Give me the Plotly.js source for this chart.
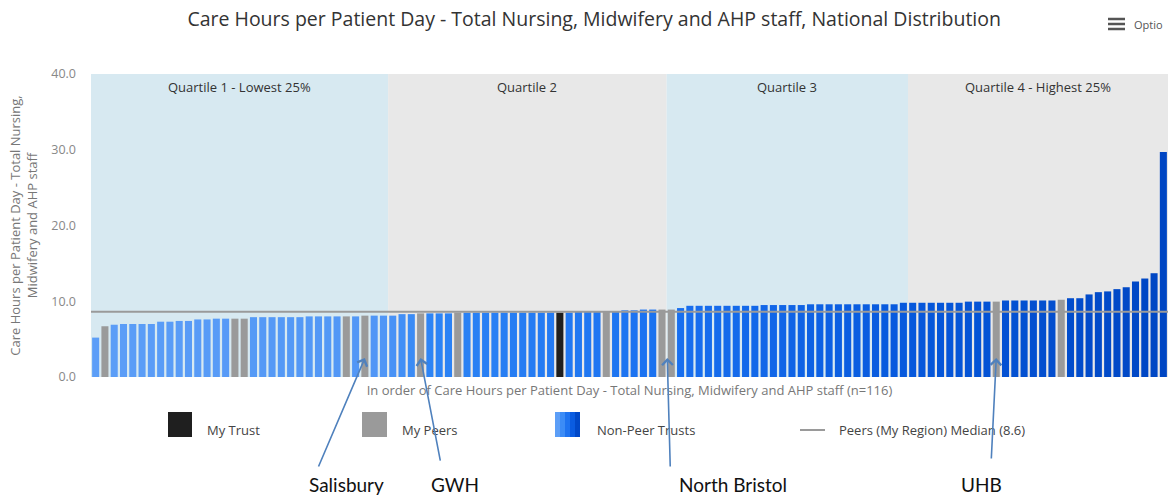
<!DOCTYPE html>
<html>
<head>
<meta charset="utf-8">
<script src="https://cdn.plot.ly/plotly-3.0.1.min.js"></script>
<style>html,body{margin:0;padding:0;background:#fff;}#chart{width:1172px;height:495px;}</style>
</head>
<body>
<div id="chart"></div>
<script>
// ---- Data (in rank order) ----
const careHours = [
  5.2, 6.7, 6.9, 7.0, 7.0, 7.0, 7.0, 7.3, 7.3, 7.4,
  7.4, 7.6, 7.6, 7.7, 7.7, 7.7, 7.7, 7.9, 7.9, 7.9,
  7.9, 7.9, 7.9, 8.0, 8.0, 8.0, 8.0, 8.0, 8.0, 8.1,
  8.1, 8.1, 8.1, 8.3, 8.3, 8.4, 8.4, 8.4, 8.4, 8.5,
  8.5, 8.5, 8.5, 8.5, 8.5, 8.5, 8.5, 8.5, 8.5, 8.5,
  8.5, 8.5, 8.7, 8.7, 8.7, 8.7, 8.7, 8.8, 8.8, 8.9,
  8.9, 8.9, 8.9, 9.1, 9.4, 9.4, 9.4, 9.4, 9.4, 9.4,
  9.4, 9.4, 9.5, 9.5, 9.5, 9.5, 9.5, 9.6, 9.6, 9.6,
  9.6, 9.6, 9.6, 9.6, 9.6, 9.6, 9.6, 9.8, 9.8, 9.8,
  9.8, 9.8, 9.8, 9.8, 9.95, 9.95, 9.95, 9.95, 10.1, 10.1,
  10.1, 10.1, 10.1, 10.1, 10.2, 10.4, 10.4, 10.9, 11.2, 11.3,
  11.6, 11.85, 12.6, 13.0, 13.7, 29.7
];
// N = non-peer trust, P = my peers, T = my trust
const trustType = (
  "NPNNNNNNNN" + "NNNNNPPNNN" + "NNNNNNNPNP" + "NNNNNPNNNP" +
  "NNNNNNNNNN" + "TNNNNPNNNN" + "NPPNNNNNNN" + "NNNNNNNNNN" +
  "NNNNNNNNNN" + "NNNNNNNPNN" + "NNNNPNNNNN" + "NNNNNN"
).split("");
const quartileLabels = ["Quartile 1 - Lowest 25%", "Quartile 2", "Quartile 3", "Quartile 4 - Highest 25%"];
const quartileCounts = [32, 30, 26, 28];
const peersMedian = 8.6;
const namedTrusts = ["Salisbury", "GWH", "North Bristol", "UHB"];
const namedRanks = [29, 35, 62, 97];
const legendLabels = ["My Trust", "My Peers", "Non-Peer Trusts", "Peers (My Region) Median (8.6)"];
const titleText = "Care Hours per Patient Day - Total Nursing, Midwifery and AHP staff, National Distribution";
const yTitle = "Care Hours per Patient Day - Total Nursing,<br>Midwifery and AHP staff";
const xTitle = "In order of Care Hours per Patient Day - Total Nursing, Midwifery and AHP staff (n=116)";

// ---- Styling ----
const n = careHours.length;
const ranks = careHours.map((_, i) => i);
const gradStops = [[0,[92,158,247]],[31,[80,150,246]],[36,[45,132,245]],[62,[25,112,240]],[88,[6,88,220]],[115,[0,70,195]]];
function blueAt(i){
  for(let k=0;k<gradStops.length-1;k++){
    const [a,ca]=gradStops[k],[b,cb]=gradStops[k+1];
    if(i>=a && i<=b){
      const t=(i-a)/(b-a);
      const c=ca.map((v,j)=>Math.round(v+(cb[j]-v)*t));
      return `rgb(${c[0]},${c[1]},${c[2]})`;
    }
  }
  return 'rgb(0,70,195)';
}
const colors = trustType.map((t,i)=> t==="T" ? "#1f1f1f" : (t==="P" ? "#9a9a9a" : blueAt(i)));

const bandColors = ["#d7e9f1", "#e8e8e8", "#d7e9f1", "#e8e8e8"];
const shapes = [];
const annotations = [];
const PW = 1077, PH = 303, L = 91, T = 74;
const px = v => (v - L) / PW;
const py = v => (T + PH - v) / PH;

let start = -0.5;
quartileCounts.forEach((c, q) => {
  const end = start + c;
  shapes.push({type:"rect", xref:"x", yref:"paper", x0:start, x1:end, y0:0, y1:1,
    fillcolor:bandColors[q], line:{width:0}, layer:"below"});
  annotations.push({xref:"x", yref:"paper", x:(start+end)/2, y:py(87), yanchor:"middle", text:quartileLabels[q],
    showarrow:false, font:{family:"Open Sans", size:13, color:"#333"}});
  start = end;
});
// median line
shapes.push({type:"line", xref:"paper", yref:"y", x0:0, x1:1, y0:peersMedian, y1:peersMedian,
  line:{color:"#9a9a9a", width:2}, layer:"above"});

// legend (drawn manually)
shapes.push({type:"rect", xref:"paper", yref:"paper", x0:px(168), x1:px(192), y0:py(437), y1:py(412), fillcolor:"#1f1f1f", line:{width:0}});
shapes.push({type:"rect", xref:"paper", yref:"paper", x0:px(362), x1:px(387), y0:py(437), y1:py(412), fillcolor:"#9a9a9a", line:{width:0}});
const swatch = ["rgb(92,158,247)","rgb(60,140,246)","rgb(30,115,240)","rgb(10,92,225)","rgb(0,72,200)"];
swatch.forEach((c,k)=>shapes.push({type:"rect", xref:"paper", yref:"paper", x0:px(555+5*k), x1:px(560+5*k), y0:py(437), y1:py(412), fillcolor:c, line:{width:0}}));
shapes.push({type:"line", xref:"paper", yref:"paper", x0:px(800), x1:px(825), y0:py(430), y1:py(430), line:{color:"#9a9a9a", width:2}});
[[205,0],[400,1],[595,2],[837,3]].forEach(([x,k])=>annotations.push({xref:"paper", yref:"paper", x:px(x), y:py(430),
  xanchor:"left", yanchor:"middle", text:legendLabels[k], showarrow:false, font:{family:"Open Sans", size:13, color:"#444"}}));

// options menu icon
[19,24,29].forEach(yv=>shapes.push({type:"line", xref:"paper", yref:"paper", x0:px(1108), x1:px(1125), y0:py(yv), y1:py(yv), line:{color:"#555", width:2.5}}));
annotations.push({xref:"paper", yref:"paper", x:px(1132), y:py(25), xanchor:"left", yanchor:"middle", text:"Optio",
  showarrow:false, font:{family:"Open Sans", size:11, color:"#555"}});

// named trusts: arrows + labels
const arrowTail = [[-47,110],[20,104],[3,110],[-5,102]];
const labelX = [346, 455, 733, 981];
namedTrusts.forEach((name,k)=>{
  annotations.push({xref:"x", yref:"y", x:namedRanks[k], y:2.5, xshift:(k===2?-4:0), text:"", showarrow:true,
    arrowhead:4, arrowsize:1.3, arrowwidth:1.6, arrowcolor:"#4f81bd", ax:arrowTail[k][0], ay:arrowTail[k][1], standoff:0});
  annotations.push({xref:"paper", yref:"paper", x:px(labelX[k]), y:py(484), text:name, showarrow:false,
    xanchor:"center", yanchor:"middle", font:{family:"Lato", size:19, color:"#111"}});
});

const trace = {type:"bar", x:ranks, y:careHours, marker:{color:colors, line:{width:0}}, hoverinfo:"y"};

const layout = {
  width:1172, height:495,
  margin:{l:91, r:4, t:74, b:118},
  paper_bgcolor:"#fff", plot_bgcolor:"#fff",
  bargap:0.24,
  showlegend:false,
  title:{text:titleText, x:0.507, xanchor:"center", y:1-19/495, yanchor:"middle", yref:"container",
    font:{family:"Open Sans", size:19.5, color:"#333"}},
  xaxis:{range:[-0.5, n-0.5], showticklabels:false, ticks:"", showgrid:false, zeroline:false, showline:false,
    title:{text:xTitle, font:{family:"Open Sans", size:13, color:"#777"}, standoff:8}},
  yaxis:{range:[0,40], dtick:10, tickformat:".1f", showgrid:false, zeroline:false, showline:false,
    ticks:"", ticklabelstandoff:14, tickfont:{family:"Open Sans", size:12.5, color:"#888"},
    title:{text:yTitle, font:{family:"Open Sans", size:13, color:"#777"}, standoff:10}},
  shapes:shapes,
  annotations:annotations,
  font:{family:"Open Sans"}
};
Plotly.newPlot("chart", [trace], layout, {displayModeBar:false, responsive:false});
</script>
</body>
</html>
